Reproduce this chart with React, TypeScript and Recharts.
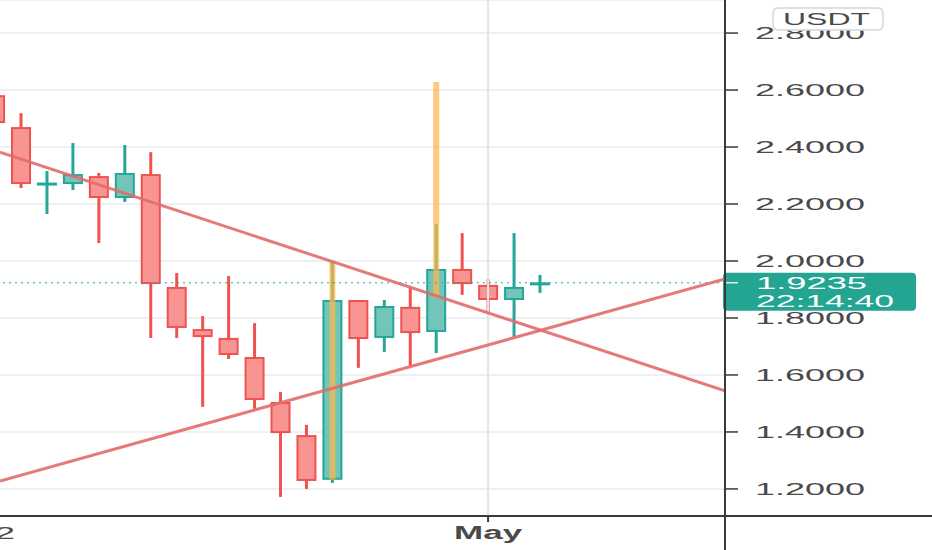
import React from "react";
import { ComposedChart, Bar, XAxis, YAxis, CartesianGrid, ReferenceLine } from "recharts";

// ---- data ----
const dayIndex = [-1, 0, 1, 2, 3, 4, 5, 6, 7, 8, 9, 10, 11, 12, 13, 14, 15, 16, 17, 18, 19, 20];
const opens = [2.582, 2.47, 2.268, 2.27, 2.298, 2.221, 2.305, 1.909, 1.761, 1.73, 1.663, 1.505, 1.389, 1.232, 1.863, 1.73, 1.839, 1.751, 1.972, 1.916, 1.863, 1.916];
const highs = [2.62, 2.519, 2.316, 2.414, 2.309, 2.407, 2.382, 1.958, 1.807, 1.947, 1.782, 1.54, 1.425, 2.0, 1.863, 1.863, 1.905, 2.13, 2.098, 1.937, 2.098, 1.951];
const lows = [2.47, 2.256, 2.165, 2.249, 2.063, 2.207, 1.73, 1.73, 1.488, 1.656, 1.481, 1.172, 1.2, 1.221, 1.625, 1.681, 1.632, 1.677, 1.881, 1.821, 1.733, 1.888];
const closes = [2.484, 2.27, 2.272, 2.305, 2.221, 2.309, 1.919, 1.765, 1.733, 1.67, 1.512, 1.396, 1.228, 1.863, 1.726, 1.842, 1.747, 1.972, 1.919, 1.863, 1.909, 1.9235];

const spikeIndex = [12, 16];
const spikeLow = [1.232, 1.87];
const spikeHigh = [2.0, 2.628];

const yTicks = [1.2, 1.4, 1.6, 1.8, 2.0, 2.2, 2.4, 2.6, 2.8];
const xTicks = [-1, 18];
const xTickLabels = ["12", "May"];

const xDomain = [-0.809, 27.13];
const yDomain = [1.105, 2.916];

const downTrend = [
  { x: -0.809, y: 2.382 },
  { x: 27.13, y: 1.544 },
];
const upTrend = [
  { x: -0.809, y: 1.228 },
  { x: 27.13, y: 1.937 },
];

const lastPrice = closes[closes.length - 1];
const countdown = "22:14:40";
const currency = "USDT";

// ---- styles ----
const RED = "#ef5350";
const RED_FILL = "#f89592";
const GREEN = "#26a69a";
const GREEN_FILL = "#72c5b9";
const TREND = "#e26b6b";
const SPIKE = "rgba(255, 182, 72, 0.72)";
const FONT = "'Liberation Sans', Arial, sans-serif";
const TEXT = "#4a4a4a";

const data = dayIndex.map((i, k) => {
  const s = spikeIndex.indexOf(i);
  return {
    i,
    range: [lows[k], highs[k]],
    o: opens[k],
    h: highs[k],
    l: lows[k],
    c: closes[k],
    sLow: s >= 0 ? spikeLow[s] : null,
    sHigh: s >= 0 ? spikeHigh[s] : null,
  };
});

const Candle = (props: any) => {
  const { x, y, width, height, payload } = props;
  if (x == null || y == null) return null;
  const top = Math.min(y, y + height);
  const hpx = Math.abs(height);
  const { o, h, l, c, sLow, sHigh } = payload;
  const k = hpx / (h - l);
  const py = (v: number) => top + (h - v) * k;
  const cx = x + width / 2;
  const up = c >= o;
  const stroke = up ? GREEN : RED;
  const fill = up ? GREEN_FILL : RED_FILL;
  const bt = py(Math.max(o, c));
  const bb = py(Math.min(o, c));
  return (
    <g>
      <line x1={cx} x2={cx} y1={py(h)} y2={py(l)} stroke={stroke} strokeWidth={3} />
      {bb - bt < 3 ? (
        <line x1={x} x2={x + width} y1={(bt + bb) / 2} y2={(bt + bb) / 2} stroke={stroke} strokeWidth={3} />
      ) : (
        <rect x={x + 1} y={bt + 1} width={width - 2} height={bb - bt - 2} fill={fill} stroke={stroke} strokeWidth={2} />
      )}
      {sLow != null && sHigh != null && (
        <line x1={cx} x2={cx} y1={py(sHigh)} y2={py(sLow)} stroke={SPIKE} strokeWidth={6} />
      )}
    </g>
  );
};

const YTick = (p: any) => (
  <text
    x={p.x + 15}
    y={p.y + 6}
    fontSize={17}
    fontFamily={FONT}
    fill={TEXT}
    textLength={110}
    lengthAdjust="spacingAndGlyphs"
  >
    {Number(p.payload.value).toFixed(4)}
  </text>
);

const XTick = (p: any) => {
  const idx = xTicks.indexOf(p.payload.value);
  const label = idx >= 0 ? xTickLabels[idx] : "";
  const bold = label === "May";
  return (
    <text
      x={p.x}
      y={p.y + 15}
      textAnchor="middle"
      fontSize={bold ? 18 : 17}
      fontWeight={bold ? 700 : 400}
      fontFamily={FONT}
      fill={TEXT}
      textLength={bold ? 68 : 40}
      lengthAdjust="spacingAndGlyphs"
    >
      {label}
    </text>
  );
};

const PriceLabel = (props: any) => {
  const vb = props.viewBox;
  if (!vb) return null;
  const left = vb.x + vb.width;
  const y = vb.y;
  return (
    <g>
      <rect x={left - 2} y={y - 10} width={193} height={38} rx={4} fill="#23a592" />
      <line x1={left + 1} x2={left + 13} y1={y} y2={y} stroke="#d9f1ec" strokeWidth={1.5} />
      <text x={left + 31} y={y + 6} fontSize={17} fontFamily={FONT} fill="#ffffff" textLength={111} lengthAdjust="spacingAndGlyphs">
        {lastPrice.toFixed(4)}
      </text>
      <text x={left + 31} y={y + 24} fontSize={17} fontFamily={FONT} fill="#ffffff" textLength={138} lengthAdjust="spacingAndGlyphs">
        {countdown}
      </text>
    </g>
  );
};

export default function App() {
  return (
    <div style={{ position: "fixed", left: 0, top: 0, width: 932, height: 550, background: "#ffffff", overflow: "hidden" }}>
      <ComposedChart width={932} height={550} data={data} margin={{ top: 0, right: 0, bottom: 0, left: 0 }}>
        <CartesianGrid vertical={false} stroke="#e8ebef" strokeWidth={1.5} />
        <XAxis
          dataKey="i"
          type="number"
          domain={xDomain}
          allowDataOverflow
          ticks={xTicks}
          interval={0}
          height={34}
          axisLine={{ stroke: "#3a3a3a", strokeWidth: 2 }}
          tickLine={{ stroke: "#3a3a3a", strokeWidth: 2 }}
          tickSize={6}
          tick={<XTick />}
        />
        <YAxis
          orientation="right"
          type="number"
          domain={yDomain}
          allowDataOverflow
          ticks={yTicks}
          interval={0}
          width={207}
          axisLine={{ stroke: "#3a3a3a", strokeWidth: 2 }}
          tickLine={{ stroke: "#3a3a3a", strokeWidth: 1.5 }}
          tickSize={13}
          tick={<YTick />}
        />
        <ReferenceLine x={18} stroke="#e0e6ed" strokeWidth={2} />
        <ReferenceLine y={lastPrice} stroke={GREEN} strokeWidth={1} strokeDasharray="2 4" label={<PriceLabel />} />
        <Bar dataKey="range" barSize={20} shape={<Candle />} isAnimationActive={false} />
        <ReferenceLine segment={downTrend} stroke={TREND} strokeWidth={3} strokeOpacity={0.9} ifOverflow="hidden" />
        <ReferenceLine segment={upTrend} stroke={TREND} strokeWidth={3} strokeOpacity={0.9} ifOverflow="hidden" />
      </ComposedChart>
      <svg width={932} height={550} style={{ position: "absolute", left: 0, top: 0, pointerEvents: "none" }}>
        <line x1={725} x2={932} y1={516} y2={516} stroke="#3a3a3a" strokeWidth={2} />
        <line x1={725} x2={725} y1={516} y2={550} stroke="#3a3a3a" strokeWidth={2} />
        <rect x={773} y={8} width={110} height={22} rx={5} fill="#ffffff" stroke="#d3d6da" strokeWidth={1.5} />
        <text x={783} y={25} fontSize={17} fontFamily={FONT} fill={TEXT} textLength={87} lengthAdjust="spacingAndGlyphs">
          {currency}
        </text>
      </svg>
    </div>
  );
}
